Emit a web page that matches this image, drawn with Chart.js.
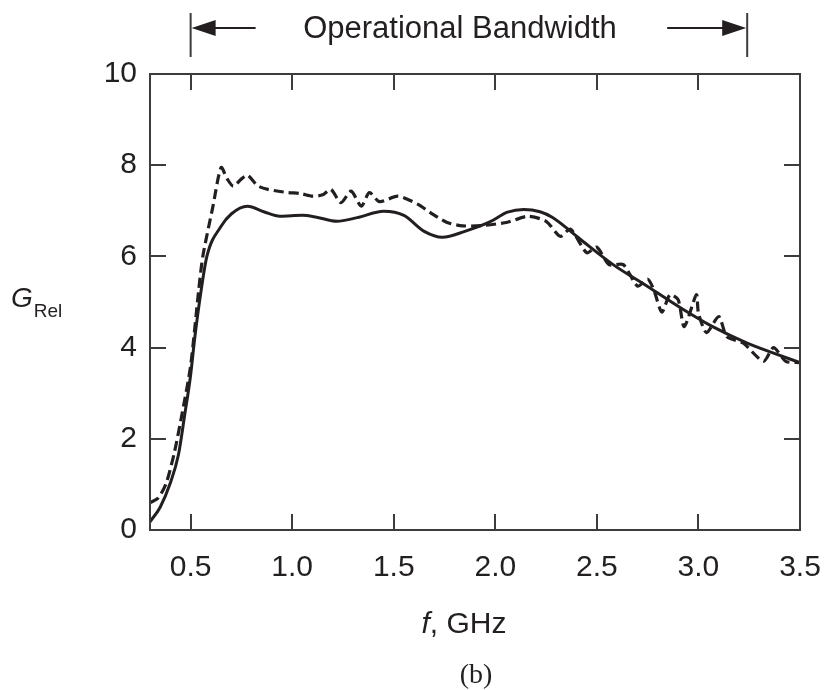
<!DOCTYPE html>
<html>
<head>
<meta charset="utf-8">
<script src="https://cdn.jsdelivr.net/npm/chart.js@4/dist/chart.umd.min.js"></script>
<style>
    html, body { margin: 0; padding: 0; background: #fff; }
    #wrap { width: 829px; height: 690px; }
</style>
</head>
<body>
<div id="wrap"><canvas id="gainChart"></canvas></div>
<script>
// --- Dados ---
const xTicks = [0.5, 1.0, 1.5, 2.0, 2.5, 3.0, 3.5];
const yTicks = [0, 2, 4, 6, 8, 10];

// curva cheia (calculada)
const solidFreq = [0.30, 0.35, 0.40, 0.44, 0.47, 0.50, 0.52, 0.55, 0.58, 0.65, 0.70, 0.78, 0.86, 0.94,
    1.05, 1.12, 1.22, 1.32, 1.45, 1.55, 1.65, 1.74, 1.85, 1.97, 2.06, 2.14, 2.22, 2.28, 2.42,
    2.58, 2.75, 2.91, 3.07, 3.24, 3.37, 3.50];
const solidGain = [0.18, 0.5, 1.03, 1.65, 2.5, 3.4, 4.2, 5.2, 6.0, 6.66, 6.93, 7.1, 6.98, 6.88,
    6.9, 6.86, 6.77, 6.85, 6.99, 6.9, 6.55, 6.42, 6.55, 6.75, 6.97, 7.03, 6.98, 6.86, 6.37,
    5.82, 5.34, 4.88, 4.46, 4.1, 3.88, 3.67];

// curva tracejada (medida)
const dashFreq = [0.30, 0.34, 0.38, 0.42, 0.46, 0.50, 0.54, 0.56, 0.61, 0.65, 0.68, 0.71, 0.75, 0.78,
    0.83, 0.88, 0.98, 1.04, 1.10, 1.15, 1.19, 1.24, 1.29, 1.34, 1.38, 1.43, 1.52, 1.62, 1.68,
    1.76, 1.84, 1.94, 2.06, 2.16, 2.25, 2.32, 2.37, 2.45, 2.50, 2.56, 2.63, 2.70, 2.75, 2.78,
    2.82, 2.86, 2.90, 2.93, 2.99, 3.00, 3.04, 3.10, 3.14, 3.22, 3.32, 3.37, 3.43, 3.50];
const dashGain = [0.6, 0.7, 1.03, 1.7, 2.6, 3.6, 5.27, 6.0, 7.1, 7.95, 7.7, 7.54, 7.7, 7.78,
    7.55, 7.47, 7.4, 7.38, 7.32, 7.35, 7.47, 7.18, 7.43, 7.1, 7.4, 7.2, 7.32, 7.14, 6.96,
    6.75, 6.67, 6.68, 6.75, 6.88, 6.77, 6.44, 6.6, 6.08, 6.2, 5.82, 5.82, 5.35, 5.5, 5.27,
    4.78, 5.16, 5.05, 4.46, 5.16, 4.76, 4.33, 4.68, 4.24, 4.1, 3.7, 4.0, 3.7, 3.67];

// limites da banda operacional (GHz)
const bandStart = 0.5;
const bandEnd = 3.24;

// --- Estilos ---
const INK = '#231f20';
const FRAME = '#3c3c3c';
const SANS = "'Liberation Sans', Arial, sans-serif";
const SERIF = "'Liberation Serif', 'Times New Roman', serif";

const toPoints = (xs, ys) => xs.map((x, i) => ({ x: x, y: ys[i] }));

function arrowHead(ctx, tipX, y, dir) {
    ctx.beginPath();
    ctx.moveTo(tipX, y);
    ctx.lineTo(tipX - dir * 24, y - 8);
    ctx.lineTo(tipX - dir * 24, y + 8);
    ctx.closePath();
    ctx.fill();
}

const framePlugin = {
    id: 'framePlugin',
    afterDraw(chart) {
        const ctx = chart.ctx;
        const { left, right, top, bottom } = chart.chartArea;
        const xs = chart.scales.x;
        const ys = chart.scales.y;
        const tickLen = 16;

        ctx.save();
        // moldura
        ctx.strokeStyle = FRAME;
        ctx.lineWidth = 2;
        ctx.strokeRect(left, top, right - left, bottom - top);

        // marcas internas
        ctx.beginPath();
        xTicks.forEach(v => {
            const px = Math.round(xs.getPixelForValue(v));
            if (px >= right - 1) return;
            ctx.moveTo(px, bottom); ctx.lineTo(px, bottom - tickLen);
            ctx.moveTo(px, top); ctx.lineTo(px, top + tickLen);
        });
        yTicks.forEach(v => {
            if (v === 0 || v === 10) return;
            const py = Math.round(ys.getPixelForValue(v));
            ctx.moveTo(left, py); ctx.lineTo(left + tickLen, py);
            ctx.moveTo(right, py); ctx.lineTo(right - tickLen, py);
        });
        ctx.stroke();

        // banda operacional
        const bx0 = xs.getPixelForValue(bandStart);
        const bx1 = xs.getPixelForValue(bandEnd);
        const ay = 28;
        ctx.strokeStyle = FRAME;
        ctx.lineWidth = 2;
        ctx.beginPath();
        ctx.moveTo(bx0, 13); ctx.lineTo(bx0, 57);
        ctx.moveTo(bx1, 13); ctx.lineTo(bx1, 57);
        ctx.stroke();
        ctx.strokeStyle = INK;
        ctx.beginPath();
        ctx.moveTo(bx0 + 10, ay); ctx.lineTo(bx0 + 65, ay);
        ctx.moveTo(bx1 - 80, ay); ctx.lineTo(bx1 - 10, ay);
        ctx.stroke();
        ctx.fillStyle = INK;
        arrowHead(ctx, bx0 + 1, ay, -1);
        arrowHead(ctx, bx1 - 1, ay, 1);

        ctx.font = '31px ' + SANS;
        ctx.textAlign = 'center';
        ctx.textBaseline = 'alphabetic';
        ctx.fillText('Operational Bandwidth', 460, 38);

        // título do eixo y: G_Rel
        ctx.textAlign = 'left';
        ctx.font = 'italic 28px ' + SANS;
        ctx.fillText('G', 11, 307);
        const gw = ctx.measureText('G').width;
        ctx.font = '19px ' + SANS;
        ctx.fillText('Rel', 11 + gw + 1, 317);

        // título do eixo x: f, GHz
        ctx.font = 'italic 30px ' + SANS;
        const fw = ctx.measureText('f').width;
        ctx.font = '30px ' + SANS;
        const restW = ctx.measureText(', GHz').width;
        const startX = 464 - (fw + restW) / 2;
        ctx.font = 'italic 30px ' + SANS;
        ctx.fillText('f', startX, 633);
        ctx.font = '30px ' + SANS;
        ctx.fillText(', GHz', startX + fw, 633);

        // legenda da figura
        ctx.textAlign = 'center';
        ctx.font = '28px ' + SERIF;
        ctx.fillText('(b)', 476, 683);
        ctx.restore();
    }
};

new Chart(document.getElementById('gainChart'), {
    type: 'line',
    data: {
        datasets: [
            {
                label: 'dashed',
                data: toPoints(dashFreq, dashGain),
                borderColor: INK,
                borderWidth: 3.2,
                borderDash: [10, 5],
                pointRadius: 0,
                tension: 0.25,
                fill: false
            },
            {
                label: 'solid',
                data: toPoints(solidFreq, solidGain),
                borderColor: INK,
                borderWidth: 3,
                pointRadius: 0,
                cubicInterpolationMode: 'monotone',
                fill: false
            }
        ]
    },
    options: {
        responsive: true,
        maintainAspectRatio: false,
        animation: false,
        layout: { padding: { top: 74, right: 29, left: 0, bottom: 0 } },
        plugins: { legend: { display: false }, tooltip: { enabled: false } },
        scales: {
            x: {
                type: 'linear',
                min: 0.3,
                max: 3.5,
                grid: { display: false, drawTicks: false },
                border: { display: false },
                afterBuildTicks: s => { s.ticks = xTicks.map(v => ({ value: v })); },
                afterFit: s => { s.height = 160; s.paddingLeft = 0; s.paddingRight = 0; },
                ticks: {
                    color: INK,
                    padding: 20,
                    maxRotation: 0,
                    font: { family: SANS, size: 30 },
                    callback: v => Number(v).toFixed(1)
                }
            },
            y: {
                min: 0,
                max: 10,
                grid: { display: false, drawTicks: false },
                border: { display: false },
                afterBuildTicks: s => { s.ticks = yTicks.map(v => ({ value: v })); },
                afterFit: s => { s.width = 150; s.paddingTop = 0; s.paddingBottom = 0; },
                ticks: {
                    color: INK,
                    padding: 13,
                    font: { family: SANS, size: 30 }
                }
            }
        }
    },
    plugins: [framePlugin]
});
</script>
</body>
</html>
